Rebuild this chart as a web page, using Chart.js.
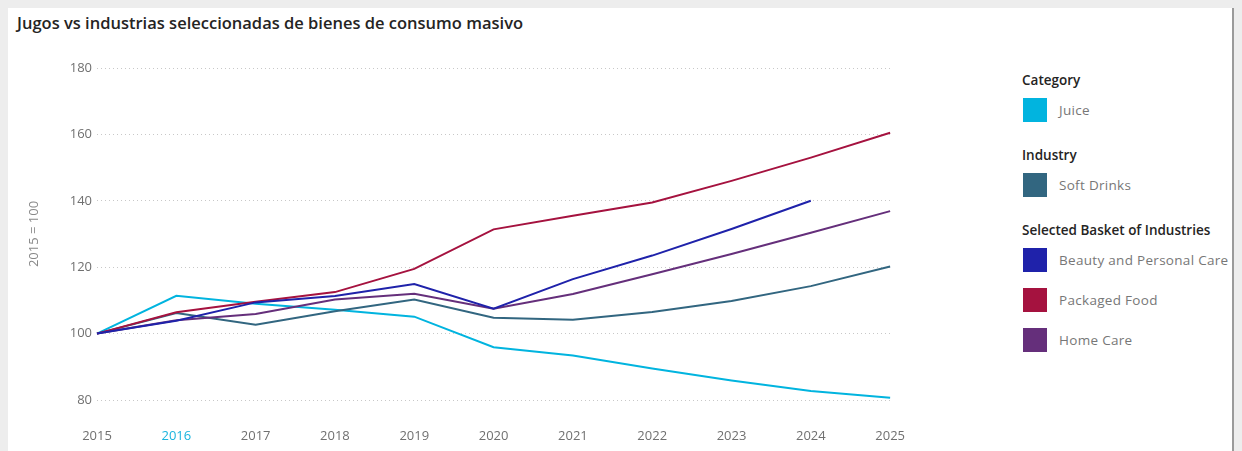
<!DOCTYPE html>
<html>
<head>
<meta charset="utf-8">
<script src="https://cdn.jsdelivr.net/npm/chart.js@4.4.1/dist/chart.umd.min.js"></script>
<style>
    html, body { margin: 0; padding: 0; }
    body {
        width: 1242px;
        height: 451px;
        overflow: hidden;
        background: #ededed;
        font-family: "Open Sans", "Noto Sans", sans-serif;
        position: relative;
    }
    .card {
        position: absolute;
        left: 8px;
        top: 8px;
        width: 1224px;
        height: 443px;
        background: #fff;
        border-right: 2px solid #9a9a9a;
    }
    .title {
        position: absolute;
        left: 17px;
        top: 11px;
        font-size: 16.5px;
        font-weight: 600;
        color: #252423;
        white-space: nowrap;
    }
    #chartBox {
        position: absolute;
        left: 0;
        top: 40px;
        width: 925px;
        height: 411px;
    }
    #legend {
        position: absolute;
        left: 1022px;
        top: 70px;
        width: 215px;
    }
    .legend-head {
        font-size: 13.5px;
        font-weight: 600;
        color: #252423;
        height: 20px;
        line-height: 20px;
        white-space: nowrap;
    }
    .legend-item {
        display: flex;
        align-items: center;
        height: 40px;
        font-size: 13.5px;
        color: #777;
        letter-spacing: 0.3px;
        white-space: nowrap;
    }
    .legend-item .swatch {
        width: 24px;
        height: 24px;
        margin: 0 12px 0 1px;
        flex: none;
    }
    .legend-group { margin-bottom: 15px; }
</style>
</head>
<body>
<div class="card"></div>
<div class="title">Jugos vs industrias seleccionadas de bienes de consumo masivo</div>
<div id="chartBox"><canvas id="trendChart"></canvas></div>
<div id="legend"></div>

<script>
// Años del eje X
const years = ['2015', '2016', '2017', '2018', '2019', '2020', '2021', '2022', '2023', '2024', '2025'];
const highlightYear = '2016';

// Índice 2015 = 100
const juice        = [100, 111.4, 109.0, 107.2, 105.1, 95.9, 93.4, 89.5, 85.9, 82.7, 80.7];
const softDrinks   = [100, 106.2, 102.7, 106.7, 110.3, 104.8, 104.2, 106.5, 109.8, 114.3, 120.2];
const beautyCare   = [100, 103.9, 109.4, 111.3, 114.9, 107.5, 116.4, 123.5, 131.5, 140.0, null];
const packagedFood = [100, 106.4, 109.6, 112.5, 119.5, 131.4, 135.5, 139.5, 146.0, 153.0, 160.5];
const homeCare     = [100, 104.0, 105.9, 110.3, 112.0, 107.5, 111.9, 117.9, 124.0, 130.4, 136.9];

// Eje Y
const yTicks = [80, 100, 120, 140, 160, 180];
const yTitle = '2015 = 100';

// Grupos de la leyenda
const legendGroups = ['Category', 'Industry', 'Selected Basket of Industries'];
const seriesNames  = ['Juice', 'Soft Drinks', 'Beauty and Personal Care', 'Packaged Food', 'Home Care'];
const seriesGroup  = [0, 1, 2, 2, 2];
const seriesData   = [juice, softDrinks, beautyCare, packagedFood, homeCare];

const colors = ['#01B4DF', '#326680', '#1F22AA', '#A5123F', '#652F7B'];
const tickColor = '#707070';
const gridColor = '#c8c8c8';
const axisFont = { family: '"Open Sans", sans-serif', size: 13 };

// Leyenda agrupada en HTML
function buildLegend() {
    const box = document.getElementById('legend');
    legendGroups.forEach((head, g) => {
        const group = document.createElement('div');
        group.className = 'legend-group';
        const h = document.createElement('div');
        h.className = 'legend-head';
        h.textContent = head;
        group.appendChild(h);
        seriesNames.forEach((name, i) => {
            if (seriesGroup[i] !== g) return;
            const item = document.createElement('div');
            item.className = 'legend-item';
            const sw = document.createElement('span');
            sw.className = 'swatch';
            sw.style.background = colors[i];
            const label = document.createElement('span');
            label.textContent = name;
            item.appendChild(sw);
            item.appendChild(label);
            group.appendChild(item);
        });
        box.appendChild(group);
    });
}

// Dibujar juice al final para que quede encima
const drawOrder = [2, 3, 4, 1, 0];

function renderChart() {
    const ctx = document.getElementById('trendChart');
    const datasets = drawOrder.map(i => ({
        label: seriesNames[i],
        data: seriesData[i],
        borderColor: colors[i],
        backgroundColor: colors[i],
        borderWidth: 2,
        pointRadius: 0,
        tension: 0,
        spanGaps: false
    }));

    new Chart(ctx, {
        type: 'line',
        data: { labels: years, datasets: datasets },
        options: {
            responsive: true,
            maintainAspectRatio: false,
            animation: false,
            layout: { padding: { left: 22, top: 28, right: 0, bottom: 0 } },
            plugins: {
                legend: { display: false },
                tooltip: { enabled: false }
            },
            scales: {
                x: {
                    offset: false,
                    grid: { display: false },
                    border: { display: false },
                    afterFit: s => { s.height = 51; },
                    ticks: {
                        padding: 20,
                        maxRotation: 0,
                        font: axisFont,
                        color: c => years[c.index] === highlightYear ? '#1AB4DE' : tickColor
                    }
                },
                y: {
                    min: yTicks[0],
                    max: yTicks[yTicks.length - 1],
                    afterBuildTicks: s => { s.ticks = yTicks.map(v => ({ value: v })); },
                    afterFit: s => { s.width = 75; },
                    grid: {
                        color: gridColor,
                        drawTicks: false,
                        lineWidth: 1
                    },
                    border: { display: false, dash: [1, 3] },
                    ticks: {
                        padding: 5,
                        font: axisFont,
                        color: tickColor
                    },
                    title: {
                        display: true,
                        text: yTitle,
                        color: '#888',
                        font: axisFont,
                        padding: { top: 4, bottom: 4 }
                    }
                }
            }
        }
    });
}

buildLegend();
renderChart();
</script>
</body>
</html>
